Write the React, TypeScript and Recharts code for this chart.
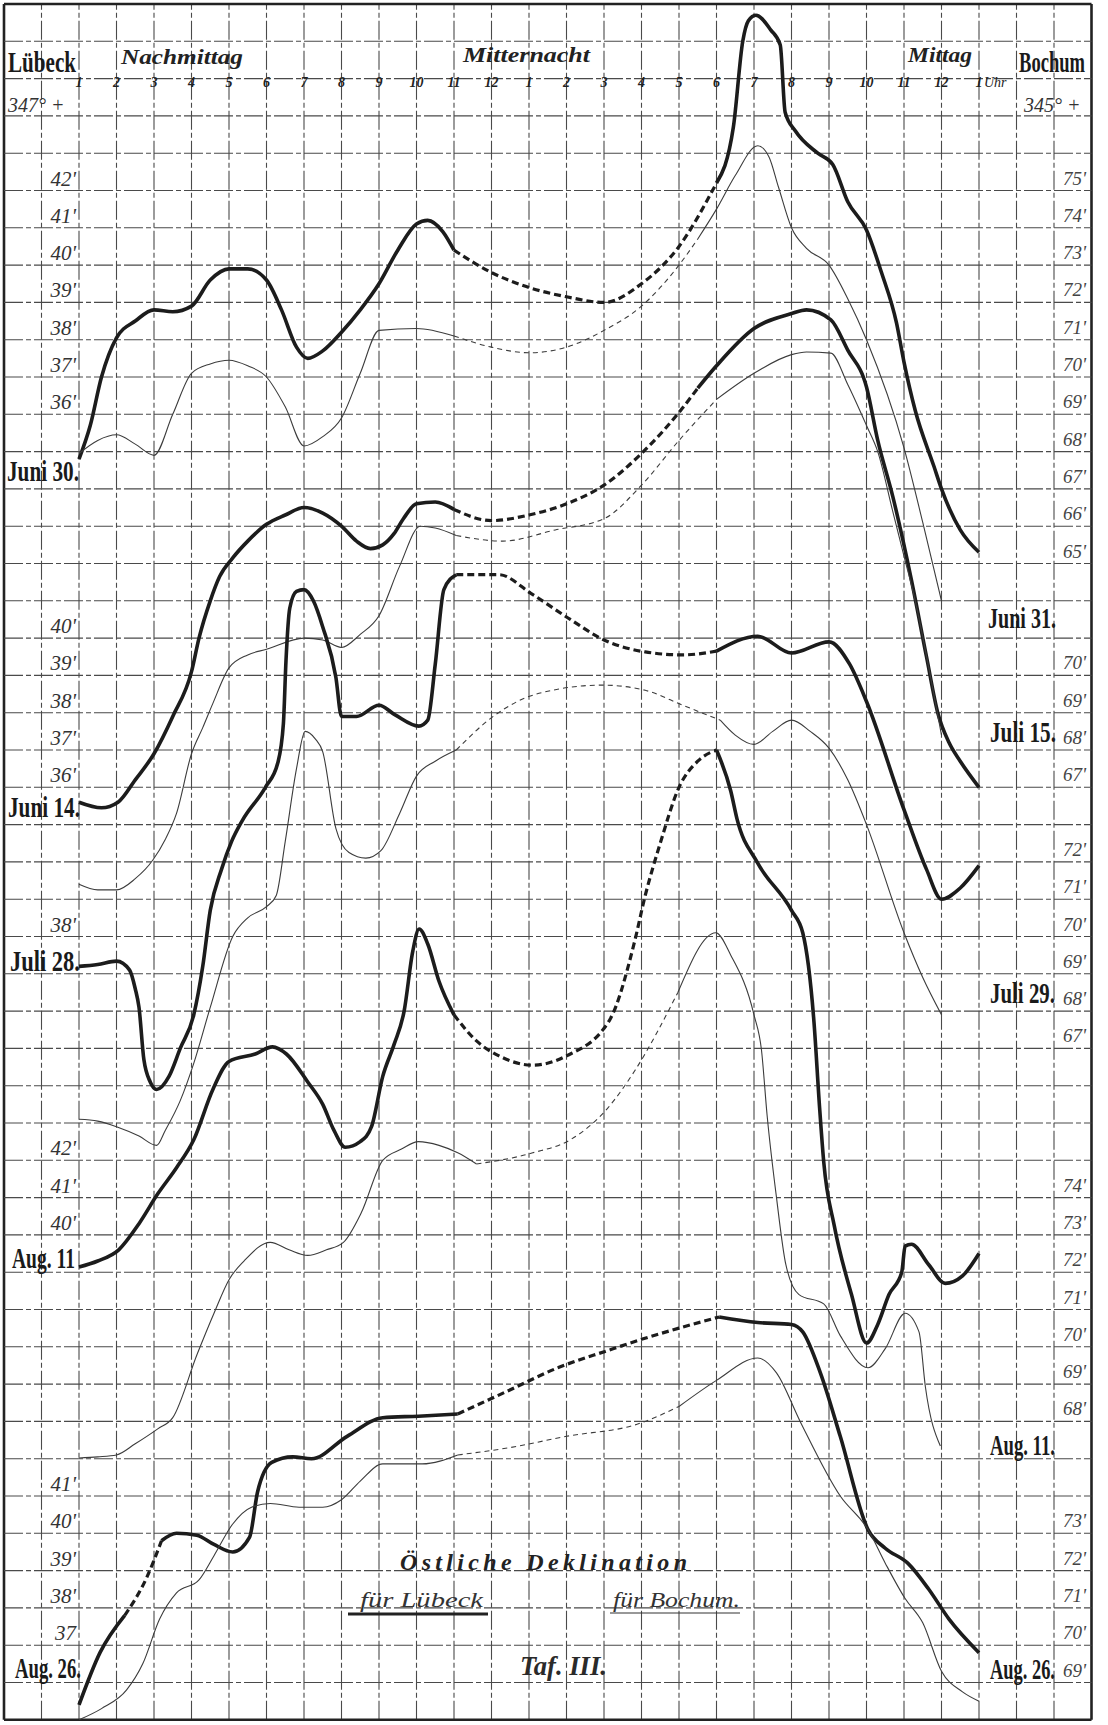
import React, { useLayoutEffect, useRef, useState } from 'react';
import { LineChart, Line, XAxis, YAxis, ReferenceLine } from 'recharts';

// ---------- layout of the sheet (grid of 29 columns x 46 rows) ----------
const W = 1108;
const H = 1725;
const LEFT = 4;
const TOP = 4;
const COL = 37.5;
const ROW = 37.3;
const H_MIN = -2; // hour axis: 0 = 1 Uhr nachmittags, 24 = 1 Uhr mittags
const H_MAX = 27;
const R_MAX = 46; // rows from the top edge

const gridCols = Array.from({ length: 30 }, (_, i) => i - 2);
const gridRows = Array.from({ length: 47 }, (_, i) => i);

// ---------- tick labels ----------
const hourValues = Array.from({ length: 25 }, (_, i) => i);
const hourLabels = ['1', '2', '3', '4', '5', '6', '7', '8', '9', '10', '11', '12', '1', '2', '3', '4', '5', '6', '7', '8', '9', '10', '11', '12', '1'];

// Lübeck minute labels: [text, grid row]
const luebeckMinutes: [string, number][] = [
  ["42'", 4], ["41'", 5], ["40'", 6], ["39'", 7], ["38'", 8], ["37'", 9], ["36'", 10],
  ["40'", 16], ["39'", 17], ["38'", 18], ["37'", 19], ["36'", 20],
  ["38'", 24],
  ["42'", 30], ["41'", 31], ["40'", 32],
  ["41'", 39], ["40'", 40], ["39'", 41], ["38'", 42], ["37", 43],
];
// Bochum minute labels: [text, grid row]
const bochumMinutes: [string, number][] = [
  ["75'", 4], ["74'", 5], ["73'", 6], ["72'", 7], ["71'", 8], ["70'", 9], ["69'", 10], ["68'", 11], ["67'", 12], ["66'", 13], ["65'", 14],
  ["70'", 17], ["69'", 18], ["68'", 19], ["67'", 20],
  ["72'", 22], ["71'", 23], ["70'", 24], ["69'", 25], ["68'", 26], ["67'", 27],
  ["74'", 31], ["73'", 32], ["72'", 33], ["71'", 34], ["70'", 35], ["69'", 36], ["68'", 37],
  ["73'", 40], ["72'", 41], ["71'", 42], ["70'", 43], ["69'", 44],
];
// date labels: [text, x, baseline, width]
const leftDates: [string, number, number, number][] = [
  ['Juni 30.', 7, 481, 72], ['Juni 14.', 8, 817, 72], ['Juli 28.', 10, 971, 70], ['Aug. 11', 12, 1268, 63], ['Aug. 26.', 15, 1678, 66],
];
const rightDates: [string, number, number, number][] = [
  ['Juni 31.', 988, 628, 68], ['Juli 15.', 990, 742, 66], ['Juli 29.', 990, 1003, 65], ['Aug. 11.', 990, 1455, 65], ['Aug. 26.', 990, 1679, 65],
];

// ---------- curves: [hour after 1 pm, grid row] ----------
type Pt = [number, number];
const juni30Luebeck: Pt[] = [[0, 12.2], [0.3, 11.3], [0.6, 10.0], [1, 8.95], [1.5, 8.5], [2, 8.2], [2.5, 8.25], [3, 8.1], [3.5, 7.4], [4, 7.1], [4.5, 7.1], [5, 7.4], [5.4, 8.2], [5.8, 9.2], [6.1, 9.5], [6.5, 9.3], [7, 8.8], [7.5, 8.2], [8, 7.5], [8.5, 6.6], [9, 5.9], [9.3, 5.8], [9.7, 6.1], [10, 6.6], [11, 7.2], [12, 7.6], [13, 7.85], [14, 8.0], [15, 7.5], [16, 6.5], [17, 4.8], [17.45, 3.3], [17.7, 1.0], [17.85, 0.45], [18.05, 0.3], [18.45, 0.7], [18.7, 1.1], [18.83, 2.9], [19.1, 3.4], [19.7, 4.0], [20.1, 4.3], [20.5, 5.3], [21, 6.06], [21.4, 7.2], [21.8, 8.55], [22, 9.6], [22.3, 10.9], [22.8, 12.4], [23, 13.0], [23.5, 14.1], [24, 14.7]];
const juni30LuebeckDashed: Pt[] = [[10, 17]];
const juni30Bochum: Pt[] = [[0, 12.05], [0.5, 11.7], [1, 11.55], [1.5, 11.8], [2, 12.1], [2.5, 11.0], [3, 9.9], [3.5, 9.65], [4, 9.55], [4.5, 9.7], [5, 10.0], [5.5, 10.8], [6, 11.85], [6.5, 11.6], [7, 11.1], [7.5, 9.9], [8, 8.75], [9, 8.7], [10, 8.9], [11, 9.2], [12, 9.35], [13, 9.2], [14, 8.75], [15, 8.1], [16, 7.0], [16.5, 6.3], [17, 5.5], [17.5, 4.6], [18.1, 3.8], [18.4, 4.1], [18.65, 4.9], [19, 6.0], [19.4, 6.55], [20, 7.0], [20.5, 7.9], [21, 9.0], [22, 11.9], [22.5, 13.9], [23, 16.0]];
const juni30BochumDashed: Pt[] = [[10, 16.5]];

const juni14Luebeck: Pt[] = [[0, 21.4], [0.6, 21.55], [1.04, 21.4], [1.5, 20.8], [2, 20.1], [2.5, 19.1], [3, 17.9], [3.2, 17.0], [3.5, 16.0], [3.75, 15.35], [4.1, 14.85], [4.5, 14.4], [5, 13.95], [5.5, 13.7], [6, 13.5], [6.5, 13.65], [7, 14.0], [7.4, 14.4], [7.77, 14.6], [8.1, 14.5], [8.4, 14.2], [8.65, 13.8], [9, 13.4], [9.5, 13.35], [10, 13.55], [11, 13.85], [12, 13.7], [13, 13.4], [14, 12.9], [15, 12.05], [16, 10.95], [16.5, 10.3], [17, 9.7], [18, 8.7], [19, 8.3], [19.4, 8.2], [20.05, 8.47], [20.5, 9.28], [21, 10.27], [21.3, 11.7], [21.7, 13.2], [22.2, 15.45], [22.6, 17.5], [22.9, 19.0], [23.2, 19.8], [23.5, 20.3], [24, 21.0]];
const juni14LuebeckDashed: Pt[] = [[10, 16.5]];
const juni14Bochum: Pt[] = [[0, 23.6], [0.5, 23.75], [1, 23.75], [1.5, 23.45], [1.97, 22.95], [2.3, 22.4], [2.6, 21.7], [3, 20.1], [3.3, 19.4], [3.57, 18.75], [4, 17.8], [4.5, 17.45], [5, 17.3], [6, 17.0], [6.5, 17.05], [7, 17.25], [7.5, 16.9], [8, 16.4], [8.55, 15.07], [9.1, 14.0], [9.5, 14.05], [10.06, 14.25], [11.3, 14.4], [12.7, 14.1], [14, 13.8], [15, 12.9], [16, 11.7], [17, 10.6], [18, 9.9], [19, 9.4], [19.4, 9.33], [20.05, 9.36], [20.5, 10.2], [21, 11.3], [21.3, 12.0], [21.7, 13.6], [22, 14.8], [22.3, 16.0], [22.7, 18.0], [23, 19.6]];
const juni14BochumDashed: Pt[] = [[10.06, 17]];

const juli28Luebeck: Pt[] = [[0, 25.8], [0.5, 25.75], [1, 25.66], [1.35, 25.9], [1.5, 26.4], [1.6, 26.9], [1.73, 28.3], [1.9, 28.9], [2.07, 29.1], [2.4, 28.75], [2.7, 28.0], [3.06, 27.1], [3.3, 25.8], [3.5, 24.3], [3.8, 23.2], [4.07, 22.45], [4.35, 21.9], [4.97, 21.0], [5.3, 20.35], [5.45, 19.3], [5.52, 17.6], [5.62, 16.2], [5.8, 15.75], [6.0, 15.7], [6.25, 16.0], [6.5, 16.7], [6.85, 18.05], [7.0, 19.1], [7.4, 19.1], [8.0, 18.8], [8.43, 19.06], [9.06, 19.36], [9.3, 19.2], [9.5, 17.7], [9.73, 15.7], [10.06, 15.3], [11.2, 15.3], [12.05, 15.8], [13.1, 16.5], [14.0, 17.05], [15.1, 17.37], [16.1, 17.45], [17.0, 17.35], [18.1, 16.95], [19, 17.4], [20, 17.1], [20.55, 17.7], [21, 18.7], [22, 21.6], [22.6, 23.2], [23, 24.0], [23.5, 23.7], [24, 23.1]];
const juli28LuebeckDashed: Pt[] = [[10.06, 17.0]];
const juli28Bochum: Pt[] = [[0, 29.9], [0.5, 29.95], [1, 30.1], [1.6, 30.35], [2.07, 30.6], [2.3, 30.2], [2.7, 29.4], [3.06, 28.4], [3.5, 26.9], [4.1, 25.0], [4.5, 24.5], [5, 24.2], [5.26, 23.9], [5.5, 22.45], [5.8, 20.5], [6.03, 19.5], [6.3, 19.7], [6.5, 20.05], [6.85, 22.1], [7.2, 22.75], [7.65, 22.9], [8.05, 22.7], [8.55, 21.7], [9, 20.7], [9.5, 20.3], [10.06, 20.0], [11.1, 19.06], [12.2, 18.5], [13.96, 18.26], [15.1, 18.4], [16.1, 18.8], [17.1, 19.2], [17.5, 19.6], [18.0, 19.85], [18.5, 19.5], [19, 19.2], [19.5, 19.5], [20, 19.95], [20.5, 20.8], [21, 22.0], [22, 24.9], [22.5, 26.1], [23, 27.1]];
const juli28BochumDashed: Pt[] = [[10.06, 17.1]];

const aug11Luebeck: Pt[] = [[0, 33.86], [0.5, 33.7], [1.06, 33.4], [1.6, 32.7], [2.1, 31.9], [2.6, 31.2], [3.06, 30.45], [3.57, 29.1], [4.0, 28.35], [4.7, 28.15], [5.16, 27.96], [5.53, 28.15], [6.1, 28.9], [6.5, 29.5], [6.8, 30.2], [7.1, 30.65], [7.5, 30.5], [7.8, 30.1], [8.1, 28.75], [8.4, 27.9], [8.67, 27.0], [8.9, 25.4], [9.07, 24.8], [9.3, 25.2], [9.6, 26.2], [10.0, 27.1], [10.6, 27.8], [11.2, 28.2], [12.1, 28.45], [13.0, 28.2], [14.15, 27.24], [14.8, 25.2], [15.1, 23.9], [15.5, 22.5], [16.0, 21.0], [16.5, 20.3], [17.0, 20.0], [17.38, 21.1], [17.55, 21.86], [18.08, 23.0], [19.0, 24.3], [19.3, 24.9], [19.6, 27.3], [19.75, 29.6], [19.86, 31.05], [20.14, 32.75], [20.6, 34.6], [21.0, 35.9], [21.3, 35.4], [21.6, 34.6], [21.94, 34.0], [22.03, 33.3], [22.2, 33.25], [22.66, 33.8], [23.1, 34.3], [23.56, 34.1], [24.0, 33.5]];
const aug11LuebeckDashed: Pt[] = [[10.0, 17.0]];
const aug11Bochum: Pt[] = [[0, 38.98], [0.5, 38.95], [1, 38.9], [1.5, 38.6], [2.1, 38.2], [2.5, 37.9], [3.15, 36.2], [3.6, 35.1], [4.0, 34.2], [4.4, 33.7], [5.1, 33.2], [5.6, 33.4], [6.1, 33.55], [6.6, 33.4], [7.05, 33.2], [7.53, 32.4], [8.1, 31.0], [8.6, 30.7], [9.05, 30.5], [9.6, 30.6], [10.1, 30.8], [10.6, 31.1], [12.1, 30.8], [13.1, 30.45], [14.1, 29.6], [14.82, 28.6], [15.97, 26.5], [16.98, 24.9], [17.38, 25.5], [18.0, 27.1], [18.2, 28.05], [18.35, 29.8], [18.6, 32.0], [18.85, 33.8], [19.2, 34.6], [19.86, 34.85], [20.3, 35.7], [21.04, 36.56], [21.5, 36.05], [22.03, 35.1], [22.4, 35.6], [22.57, 37.07], [22.97, 38.66]];
const aug11BochumDashed: Pt[] = [[10.6, 15.97]];

const aug26Luebeck: Pt[] = [[0, 45.6], [0.56, 44.2], [1.22, 43.2], [1.8, 42.2], [2.2, 41.2], [2.6, 41.0], [3.14, 41.05], [3.6, 41.3], [4.1, 41.5], [4.55, 41.1], [4.76, 39.9], [5.14, 39.1], [5.7, 38.95], [6.2, 39.0], [7.15, 38.4], [8.1, 37.9], [9.05, 37.86], [10.1, 37.8], [11.4, 37.2], [12.8, 36.55], [14.1, 36.1], [15, 35.8], [16, 35.5], [17.07, 35.2], [18.1, 35.35], [19, 35.4], [19.3, 35.6], [19.77, 36.7], [20.3, 38.4], [21.04, 40.9], [21.5, 41.4], [22.1, 41.8], [22.66, 42.5], [23.2, 43.3], [24, 44.2]];
const aug26LuebeckDashed: Pt[] = [[1.22, 2.2], [10.1, 17.07]];
const aug26Bochum: Pt[] = [[0, 46.0], [0.6, 45.7], [1.27, 45.2], [1.7, 44.5], [2.15, 43.3], [2.6, 42.6], [3.2, 42.25], [3.6, 41.6], [4.1, 40.75], [4.6, 40.3], [5.1, 40.2], [5.87, 40.3], [6.5, 40.3], [7.0, 40.1], [7.5, 39.6], [8.1, 39.14], [9.15, 39.14], [10.1, 38.9], [11.5, 38.7], [13, 38.4], [14.9, 38.07], [16, 37.6], [17, 36.9], [18.1, 36.3], [18.6, 36.7], [19.23, 38.0], [20.3, 40.0], [21.04, 40.9], [21.5, 41.8], [22.03, 42.75], [22.5, 43.4], [23.0, 44.7], [23.56, 45.25], [24, 45.5]];
const aug26BochumDashed: Pt[] = [[10.1, 16]];

const series = [
  { id: 'juni30L', pts: juni30Luebeck, dashed: juni30LuebeckDashed, thick: true },
  { id: 'juni30B', pts: juni30Bochum, dashed: juni30BochumDashed, thick: false },
  { id: 'juni14L', pts: juni14Luebeck, dashed: juni14LuebeckDashed, thick: true },
  { id: 'juni14B', pts: juni14Bochum, dashed: juni14BochumDashed, thick: false },
  { id: 'juli28L', pts: juli28Luebeck, dashed: juli28LuebeckDashed, thick: true },
  { id: 'juli28B', pts: juli28Bochum, dashed: juli28BochumDashed, thick: false },
  { id: 'aug11L', pts: aug11Luebeck, dashed: aug11LuebeckDashed, thick: true },
  { id: 'aug11B', pts: aug11Bochum, dashed: aug11BochumDashed, thick: false },
  { id: 'aug26L', pts: aug26Luebeck, dashed: aug26LuebeckDashed, thick: true },
  { id: 'aug26B', pts: aug26Bochum, dashed: aug26BochumDashed, thick: false },
];

function splitSegments(pts: Pt[], dashed: Pt[]) {
  const isDashed = (a: number, b: number) => {
    const m = (a + b) / 2;
    return dashed.some(([s, e]) => m > s && m < e);
  };
  const out: { dashed: boolean; data: { h: number; r: number }[] }[] = [];
  let cur: { dashed: boolean; data: { h: number; r: number }[] } | null = null;
  for (let i = 0; i < pts.length - 1; i++) {
    const d = isDashed(pts[i][0], pts[i + 1][0]);
    if (!cur || cur.dashed !== d) {
      cur = { dashed: d, data: [{ h: pts[i][0], r: pts[i][1] }] };
      out.push(cur);
    }
    cur.data.push({ h: pts[i + 1][0], r: pts[i + 1][1] });
  }
  return out;
}

const px = (h: number) => LEFT + (h - H_MIN) * COL;
const py = (r: number) => TOP + r * ROW;

const BOLD = "'Liberation Serif', 'DejaVu Serif', serif";
const ITAL = "'Liberation Serif', 'DejaVu Serif', serif";

// condensed text: measured, then squeezed horizontally to the wanted width
function FitText(props: { x: number; y: number; width: number; size: number; bold?: boolean; italic?: boolean; fill?: string; children: string }) {
  const ref = useRef<SVGTextElement>(null);
  const [s, setS] = useState(1);
  useLayoutEffect(() => {
    if (ref.current) {
      const w = ref.current.getComputedTextLength();
      if (w > 0) setS(props.width / w);
    }
  }, [props.width, props.children]);
  return (
    <text
      ref={ref}
      x={0}
      y={0}
      transform={`translate(${props.x},${props.y}) scale(${s},1)`}
      fontFamily={BOLD}
      fontWeight={props.bold ? 'bold' : 'normal'}
      fontStyle={props.italic ? 'italic' : 'normal'}
      fontSize={props.size}
      fill={props.fill || '#1a1a1a'}
    >
      {props.children}
    </text>
  );
}

export default function App() {
  const lines: React.ReactNode[] = [];
  series.forEach((s) => {
    splitSegments(s.pts, s.dashed).forEach((seg, i) => {
      lines.push(
        <Line
          key={`${s.id}-${i}`}
          data={seg.data}
          dataKey="r"
          type="monotone"
          dot={false}
          activeDot={false}
          isAnimationActive={false}
          stroke={s.thick ? '#1c1c1c' : '#3c3c3c'}
          strokeWidth={s.thick ? (seg.dashed ? 3.2 : 3.6) : 1.1}
          strokeDasharray={seg.dashed ? (s.thick ? '7 4' : '5 4') : undefined}
          strokeLinecap="butt"
        />
      );
    });
  });

  return (
    <div style={{ position: 'absolute', left: 0, top: 0, width: W, height: H, background: '#ffffff' }}>
      <LineChart width={W} height={H} margin={{ top: TOP, right: W - px(H_MAX), bottom: H - py(R_MAX), left: LEFT }}>
        <XAxis dataKey="h" type="number" domain={[H_MIN, H_MAX]} allowDataOverflow hide />
        <YAxis type="number" domain={[0, R_MAX]} reversed allowDataOverflow hide />
        {gridCols.map((c) => (
          <ReferenceLine
            key={`c${c}`}
            x={c}
            stroke={c === H_MIN || c === H_MAX ? '#222' : '#4a4a4a'}
            strokeWidth={c === H_MIN || c === H_MAX ? 2.6 : 1.1}
            strokeDasharray={c === H_MIN || c === H_MAX ? undefined : '19 3 5 3'}
            ifOverflow="visible"
          />
        ))}
        {gridRows.map((r) => (
          <ReferenceLine
            key={`r${r}`}
            y={r}
            stroke={r === 0 || r === R_MAX ? '#222' : '#4a4a4a'}
            strokeWidth={r === 0 || r === R_MAX ? 2.6 : 1.1}
            strokeDasharray={r === 0 || r === R_MAX ? undefined : '19 3 5 3'}
            ifOverflow="visible"
          />
        ))}
        {lines}
      </LineChart>
      <svg width={W} height={H} style={{ position: 'absolute', left: 0, top: 0, pointerEvents: 'none' }}>
        {/* headings */}
        <FitText x={8} y={72} width={68} size={30} bold>Lübeck</FitText>
        <FitText x={1019} y={72} width={66} size={30} bold>Bochum</FitText>
        <text x={8} y={112} fontFamily={ITAL} fontStyle="italic" fontSize={20} fill="#333">347° +</text>
        <text x={1024} y={112} fontFamily={ITAL} fontStyle="italic" fontSize={20} fill="#333">345° +</text>
        <text x={121} y={64} fontFamily={ITAL} fontStyle="italic" fontWeight="bold" fontSize={22} textLength={122} lengthAdjust="spacingAndGlyphs" fill="#222">Nachmittag</text>
        <text x={463} y={62} fontFamily={ITAL} fontStyle="italic" fontWeight="bold" fontSize={22} textLength={127} lengthAdjust="spacingAndGlyphs" fill="#222">Mitternacht</text>
        <FitText x={908} y={62} width={64} size={22} bold italic fill="#222">Mittag</FitText>
        {hourValues.map((h, i) => (
          <text key={`hl${i}`} x={px(h)} y={87} textAnchor="middle" fontFamily={ITAL} fontStyle="italic" fontWeight="bold" fontSize={14} fill="#222">{hourLabels[i]}</text>
        ))}
        <text x={px(24) + 5} y={87} fontFamily={ITAL} fontStyle="italic" fontSize={14} fill="#222">Uhr</text>
        {luebeckMinutes.map(([t, r], i) => (
          <text key={`lm${i}`} x={76} y={py(r + 1) - 5} textAnchor="end" fontFamily={ITAL} fontStyle="italic" fontSize={21} fill="#333">{t}</text>
        ))}
        {bochumMinutes.map(([t, r], i) => (
          <text key={`bm${i}`} x={1063} y={py(r + 1) - 6} fontFamily={ITAL} fontStyle="italic" fontSize={19} fill="#444">{t}</text>
        ))}
        {leftDates.concat(rightDates).map(([t, x, y, w], i) => (
          <FitText key={`d${i}`} x={x} y={y} width={w} size={29} bold>{t}</FitText>
        ))}
        {/* legend / title */}
        <text x={400} y={1570} fontFamily={ITAL} fontStyle="italic" fontWeight="bold" fontSize={24} textLength={287} lengthAdjust="spacing" fill="#222">Östliche  Deklination</text>
        <text x={360} y={1607} fontFamily={ITAL} fontStyle="italic" fontSize={21} textLength={123} lengthAdjust="spacingAndGlyphs" fill="#333">für Lübeck</text>
        <line x1={348} x2={488} y1={1614} y2={1614} stroke="#222" strokeWidth={3} />
        <text x={613} y={1607} fontFamily={ITAL} fontStyle="italic" fontSize={21} textLength={127} lengthAdjust="spacingAndGlyphs" fill="#333">für Bochum.</text>
        <line x1={610} x2={740} y1={1613} y2={1613} stroke="#333" strokeWidth={1.2} />
        <FitText x={520} y={1675} width={87} size={27} bold italic fill="#2a2a2a">Taf. III.</FitText>
      </svg>
    </div>
  );
}
